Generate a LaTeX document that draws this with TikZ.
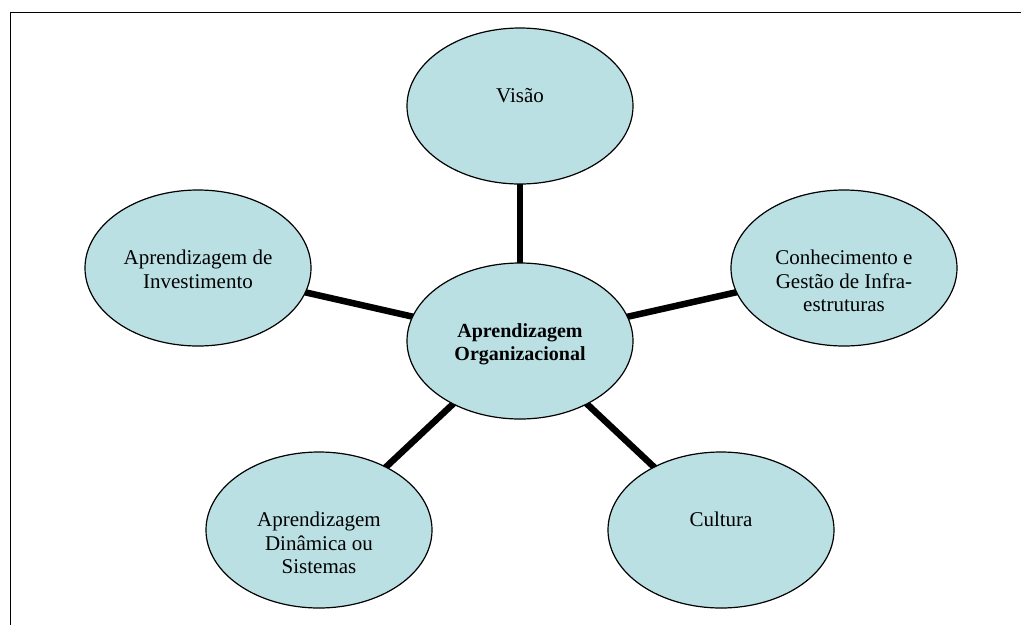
\documentclass[tikz,border=0pt]{standalone}
\usepackage{fontspec}
\setmainfont{Liberation Serif}
\usetikzlibrary{shapes.geometric,backgrounds}
\definecolor{bubblefill}{RGB}{186,224,228}
\begin{document}
\begin{tikzpicture}[x=1pt,y=-1pt,
  bubble/.style={ellipse,draw=black,line width=1.2pt,fill=bubblefill,minimum width=226pt,minimum height=156pt,inner sep=0pt},
  bubbletext/.style={anchor=north,inner sep=0pt,align=center,font=\fontsize{21}{23.5}\selectfont},
  hubtext/.style={bubbletext,font=\fontsize{20}{23}\selectfont\bfseries},
  link/.style={line width=6.5pt,shorten <=-4pt,shorten >=-4pt},
  frameline/.style={line width=1.5pt}]
\useasboundingbox (0,0) rectangle (1021,625);
\draw[frameline] (10.5,625) -- (10.5,12.5) -- (1021,12.5);

\node[bubble] (hub) at (520,341) {};
\node[bubble] (vis) at (520,106) {};
\node[bubble] (inv) at (198,268) {};
\node[bubble] (con) at (844,268) {};
\node[bubble] (cul) at (721,530) {};
\node[bubble] (din) at (319,530) {};

\node[hubtext] (hubT) at (520,323) {Aprendizagem\\Organizacional};
\node[bubbletext] (visT) at (520,88) {Visão};
\node[bubbletext] (invT) at (198,250) {Aprendizagem de\\Investimento};
\node[bubbletext] (conT) at (844,250) {Conhecimento e\\Gestão de Infra-\\estruturas};
\node[bubbletext] (culT) at (721,512) {Cultura};
\node[bubbletext] (dinT) at (319,512) {Aprendizagem\\Dinâmica ou\\Sistemas};

\begin{scope}[on background layer]
\draw[link] (hub) -- (vis);
\draw[link] (hub) -- (inv);
\draw[link] (hub) -- (con);
\draw[link] (hub) -- (cul);
\draw[link] (hub) -- (din);
\end{scope}
\end{tikzpicture}
\end{document}
